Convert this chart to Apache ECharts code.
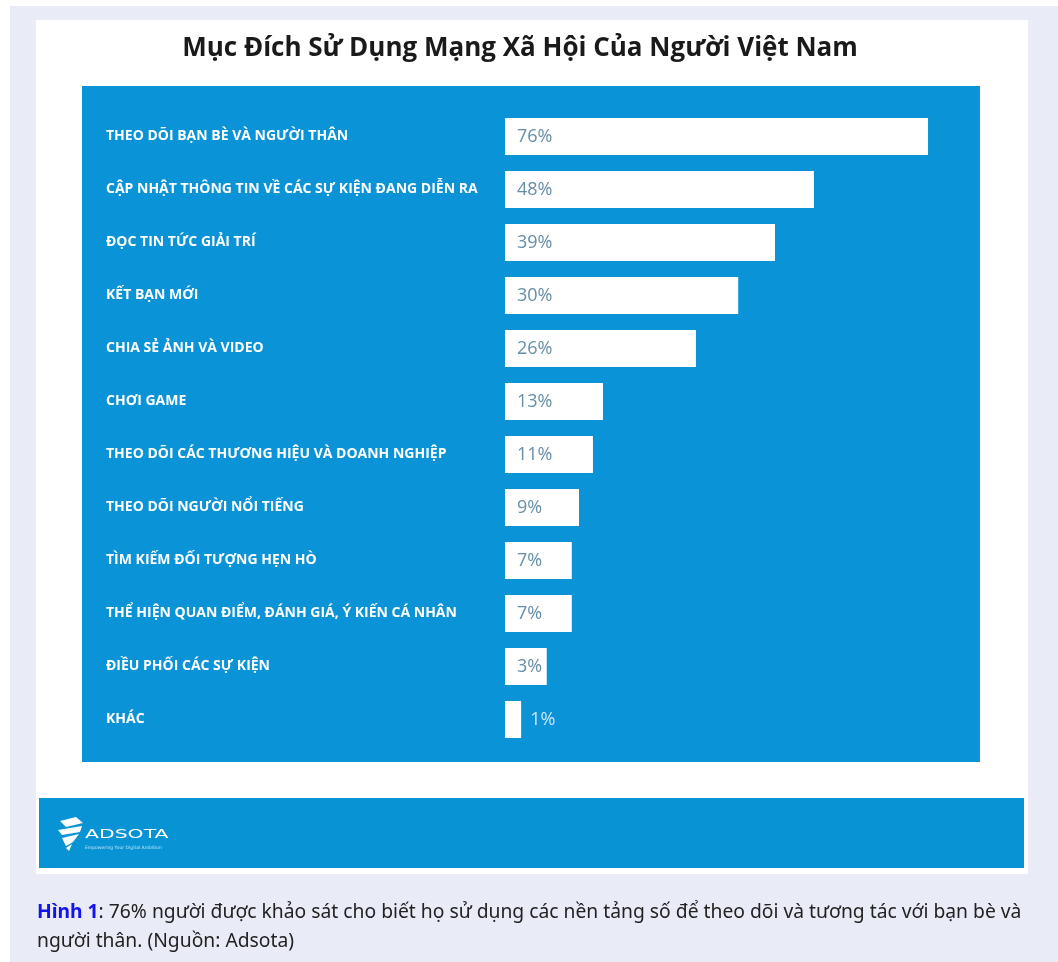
<!DOCTYPE html>
<html>
<head>
<meta charset="utf-8">
<script src="https://cdn.jsdelivr.net/npm/echarts@6/dist/echarts.min.js"></script>
<style>
html,body{margin:0;padding:0;background:#fff;}
#chart{width:1058px;height:962px;}
</style>
</head>
<body>
<div id="chart"></div>
<script>
// ---- data ----
const categories = [
  'THEO DÕI BẠN BÈ VÀ NGƯỜI THÂN',
  'CẬP NHẬT THÔNG TIN VỀ CÁC SỰ KIỆN ĐANG DIỄN RA',
  'ĐỌC TIN TỨC GIẢI TRÍ',
  'KẾT BẠN MỚI',
  'CHIA SẺ ẢNH VÀ VIDEO',
  'CHƠI GAME',
  'THEO DÕI CÁC THƯƠNG HIỆU VÀ DOANH NGHIỆP',
  'THEO DÕI NGƯỜI NỔI TIẾNG',
  'TÌM KIẾM ĐỐI TƯỢNG HẸN HÒ',
  'THỂ HIỆN QUAN ĐIỂM, ĐÁNH GIÁ, Ý KIẾN CÁ NHÂN',
  'ĐIỀU PHỐI CÁC SỰ KIỆN',
  'KHÁC'
];
// percentages printed on the bars
const values = [76, 48, 39, 30, 26, 13, 11, 9, 7, 7, 3, 1];
// bar lengths as drawn in the original infographic (not proportional to the
// printed values) in the same % units as the 76% bar
const drawnLengths = [76, 55.5, 48.5, 41.9, 34.3, 17.6, 15.8, 13.3, 12.0, 12.0, 7.5, 2.9];

const titleText = 'Mục Đích Sử Dụng Mạng Xã Hội Của Người Việt Nam';
const captionLead = 'Hình 1';
const captionLine1 = ': 76% người được khảo sát cho biết họ sử dụng các nền tảng số để theo dõi và tương tác với bạn bè và';
const captionLine2 = 'người thân. (Nguồn: Adsota)';

// ---- chart ----
const BLUE = '#0a93d6';
const chart = echarts.init(document.getElementById('chart'), null, {renderer: 'canvas'});

const seriesData = drawnLengths.map((len, i) => {
  const outside = values[i] < 2;
  return {
    value: len,
    label: outside ? {
      position: 'right', distance: 9, color: '#cde7f6'
    } : {
      position: 'insideLeft', distance: 12, color: '#668ea7'
    }
  };
});

const option = {
  animation: false,
  backgroundColor: '#e9ebf6',
  graphic: [
    // white margins of the screenshot
    {type: 'rect', z: -10, shape: {x: 0, y: 0, width: 1058, height: 6}, style: {fill: '#ffffff'}},
    {type: 'rect', z: -10, shape: {x: 0, y: 0, width: 10, height: 962}, style: {fill: '#ffffff'}},
    // white card
    {type: 'rect', z: -9, shape: {x: 36, y: 20, width: 992, height: 854}, style: {fill: '#ffffff'}},
    // blue chart panel
    {type: 'rect', z: -8, shape: {x: 82, y: 86, width: 898, height: 676}, style: {fill: BLUE}},
    // footer band
    {type: 'rect', z: -8, shape: {x: 39, y: 798, width: 985, height: 70}, style: {fill: '#0893d4'}},
    // title
    {type: 'text', x: 520, y: 49, style: {
      text: titleText, fill: '#1a1a1a', font: 'bold 26px "Open Sans"',
      textAlign: 'center', textVerticalAlign: 'middle'
    }},
    // logo icon
    {type: 'polygon', shape: {points: [[60,821],[76,817],[83,823],[66,827]]}, style: {fill: '#ffffff'}},
    {type: 'polygon', shape: {points: [[58,830],[82,826],[80,832],[62,835]]}, style: {fill: '#ffffff'}},
    {type: 'polygon', shape: {points: [[62,838],[79,834],[73,842],[66,846]]}, style: {fill: '#ffffff'}},
    {type: 'polygon', shape: {points: [[66,848],[72,844],[69,851]]}, style: {fill: '#ffffff'}},
    {type: 'text', x: 85, y: 835, scaleX: 1.7, style: {
      text: 'ADSOTA', fill: '#ffffff', font: '12px "DejaVu Sans"',
      textAlign: 'left', textVerticalAlign: 'middle'
    }},
    {type: 'text', x: 85, y: 848, style: {
      text: 'Empowering Your Digital Ambition', fill: '#bfe3f6', font: '4.5px "DejaVu Sans"',
      textAlign: 'left', textVerticalAlign: 'middle'
    }},
    // caption
    {type: 'text', x: 37, y: 927.5, style: {
      text: '{b|' + captionLead + '}' + captionLine1 + '\n' + captionLine2,
      fill: '#222222', font: '19.3px "Noto Sans"', lineHeight: 29,
      textAlign: 'left', textVerticalAlign: 'middle',
      rich: {b: {fill: '#1313ee', font: 'bold 19.3px "Noto Sans"', lineHeight: 29}}
    }}
  ],
  grid: {left: 505, top: 110, width: 445.3, height: 636, containLabel: false},
  xAxis: {
    type: 'value', min: 0, max: 80, show: false
  },
  yAxis: {
    type: 'category', data: categories, inverse: true,
    axisLine: {show: false}, axisTick: {show: false}, splitLine: {show: false},
    axisLabel: {
      align: 'left', margin: 399, color: '#ffffff',
      fontFamily: 'Open Sans', fontWeight: 'bold', fontSize: 14
    }
  },
  series: [{
    type: 'bar', data: seriesData, barWidth: 37,
    itemStyle: {color: '#ffffff'},
    label: {
      show: true, fontFamily: 'Open Sans', fontSize: 18,
      formatter: p => values[p.dataIndex] + '%'
    }
  }]
};
chart.setOption(option);
</script>
</body>
</html>
